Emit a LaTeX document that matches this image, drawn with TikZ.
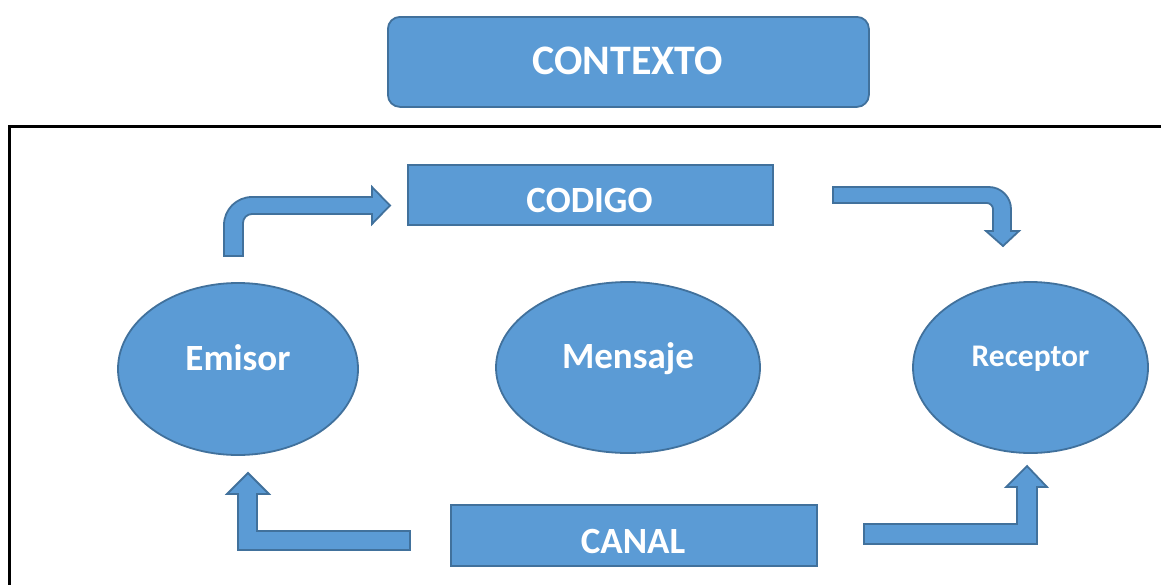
\documentclass[tikz,border=0pt]{standalone}
\usepackage{fontspec}
\setmainfont{Carlito}
\usetikzlibrary{shapes.geometric}
\definecolor{fillblue}{HTML}{5B9BD5}
\definecolor{edgeblue}{HTML}{41719C}
\tikzset{
  blueshape/.style={fill=fillblue, draw=edgeblue, line width=1.8pt},
  boxnode/.style={blueshape, rectangle, inner sep=0pt, anchor=north west},
  ellnode/.style={blueshape, ellipse, inner sep=0pt},
  lbl/.style={text=white, font=\bfseries\fontsize{37}{40}\selectfont, anchor=base, inner sep=0pt},
  blockarrow/.style={blueshape, line join=miter}
}
\begin{document}
\begin{tikzpicture}[x=1pt,y=-1pt]
\useasboundingbox (0,0) rectangle (1161,584);
\clip (0,0) rectangle (1161,584);
\fill[white] (0,0) rectangle (1161,584);
% outer frame
\draw[line width=3pt, black] (9,126) rectangle (1180,610);
% CONTEXTO
\node[boxnode, rounded corners=12pt, minimum width=481pt, minimum height=90pt] (contexto) at (387,16) {};
\node[lbl, font=\bfseries\fontsize{42}{46}\selectfont] (contextotxt) at (627.5,74) {CONTEXTO};
% CODIGO
\node[boxnode, minimum width=365pt, minimum height=60pt] (codigo) at (407,164) {};
\node[lbl] (codigotxt) at (589.5,212) {CODIGO};
% CANAL
\node[boxnode, minimum width=366pt, minimum height=61pt] (canal) at (450,504) {};
\node[lbl] (canaltxt) at (633,553) {CANAL};
% ellipses
\node[ellnode, minimum width=240pt, minimum height=172pt] (emisor) at (238,369) {};
\node[lbl] (emisortxt) at (238,370) {Emisor};
\node[ellnode, minimum width=264pt, minimum height=171pt] (mensaje) at (628,367.5) {};
\node[lbl] (mensajetxt) at (628,368) {Mensaje};
\node[ellnode, minimum width=235pt, minimum height=171pt] (receptor) at (1030.5,367.5) {};
\node[lbl, font=\bfseries\fontsize{31.5}{34}\selectfont] (receptortxt) at (1030.5,366) {Receptor};
% arrow Emisor -> CODIGO
\path[blockarrow] (224,256) -- (224,225) .. controls (224,209.5) and (236.5,197) .. (252,197)
  -- (372,197) -- (372,187) -- (390,205.5) -- (372,224) -- (372,214) -- (252,214)
  .. controls (247,214) and (243,218) .. (243,223) -- (243,256) -- cycle;
% arrow CODIGO -> Receptor
\path[blockarrow] (833,187) -- (989,187) .. controls (1001,187) and (1011,197) .. (1011,209)
  -- (1011,231) -- (1019,231) -- (1003,246) -- (986,231) -- (993,231) -- (993,209)
  .. controls (993,206) and (990,203) .. (987,203) -- (833,203) -- cycle;
% arrow CANAL -> Emisor
\path[blockarrow] (410,531) -- (257,531) -- (257,494) -- (269,494) -- (248,473) -- (227,494)
  -- (238,494) -- (238,550) -- (410,550) -- cycle;
% arrow CANAL -> Receptor
\path[blockarrow] (864,524) -- (1017,524) -- (1017,487) -- (1006,487) -- (1027,466) -- (1047,487)
  -- (1037,487) -- (1037,544) -- (864,544) -- cycle;
\end{tikzpicture}
\end{document}
